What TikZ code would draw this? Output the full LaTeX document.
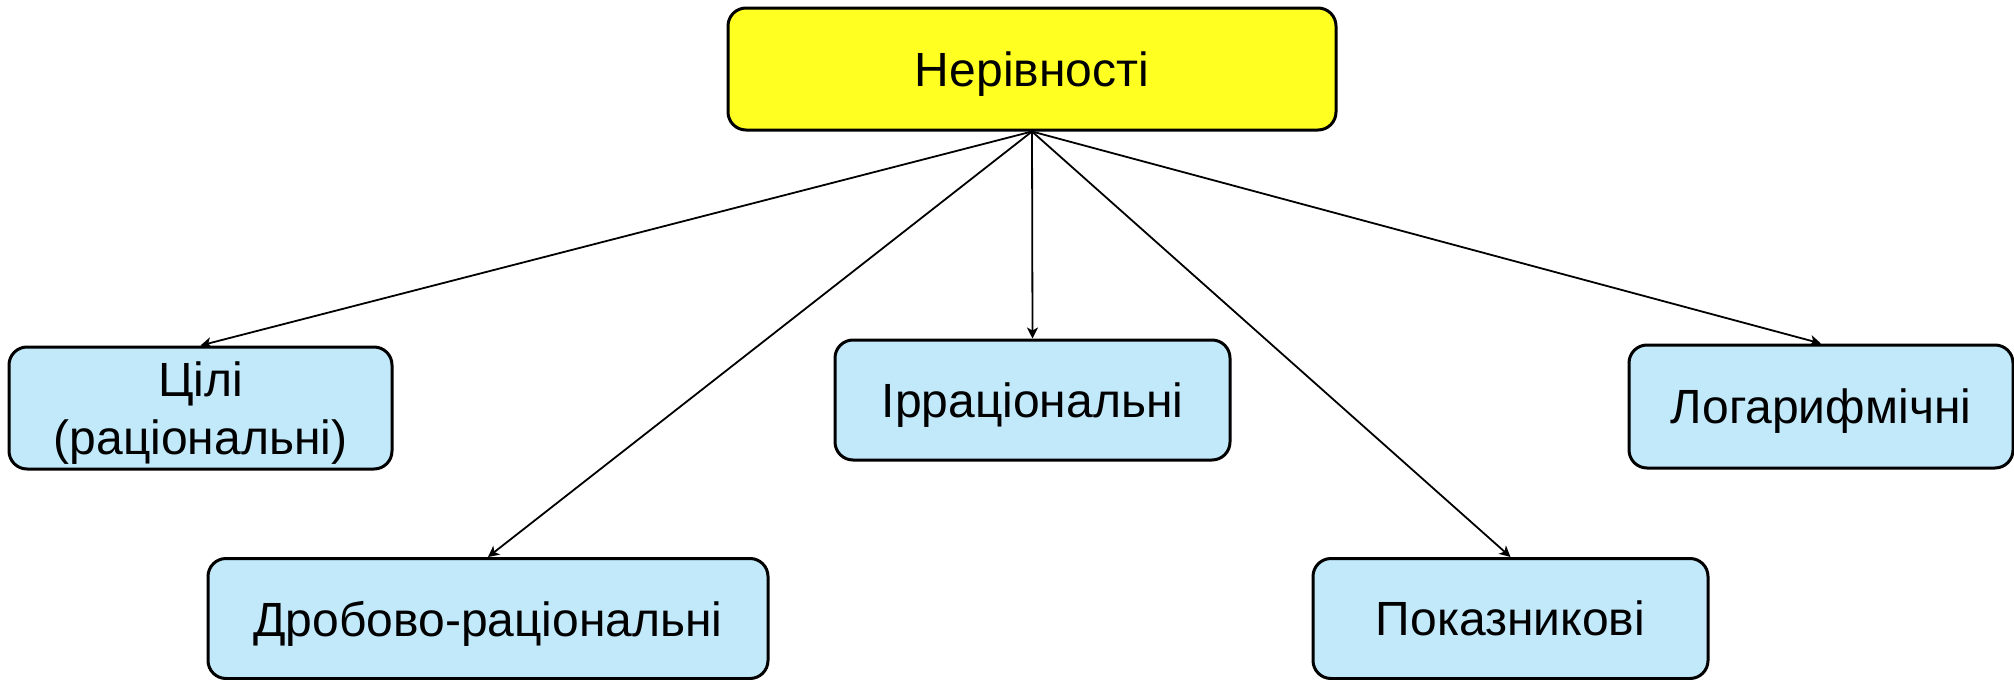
\documentclass[tikz,border=0pt]{standalone}
\usepackage{fontspec}
\setmainfont{Liberation Sans}
\usetikzlibrary{arrows.meta}
\definecolor{topfill}{HTML}{FFFF22}
\definecolor{boxfill}{HTML}{C1E9FA}
\tikzset{
  basebox/.style={draw=black, line width=1.5pt, rounded corners=9pt, inner sep=0pt, align=center,
    text depth=0pt, font=\fontsize{24}{27.5}\selectfont},
  topbox/.style={basebox, fill=topfill},
  subbox/.style={basebox, fill=boxfill},
  conn/.style={draw=black, line width=0.9pt, -{Stealth[length=5.5pt,width=5.5pt,inset=1.5pt]}}
}
\begin{document}
\begin{tikzpicture}[x=0.5pt,y=-0.5pt]
\useasboundingbox (0,0) rectangle (2014,680);
\node[topbox, minimum width=304pt, minimum height=61pt] (top) at (1032,69) {Нерівності};
\node[subbox, minimum width=191.5pt, minimum height=61pt, text depth=-3pt,
  font=\fontsize{24}{29}\selectfont] (cili) at (200.5,408) {Цілі\\(раціональні)};
\node[subbox, minimum width=197.5pt, minimum height=60pt] (irr) at (1032.5,400) {Ірраціональні};
\node[subbox, minimum width=192pt, minimum height=61.5pt] (log) at (1821,406.5) {Логарифмічні};
\node[subbox, minimum width=280pt, minimum height=60pt] (drob) at (488,618.5) {Дробово-раціональні};
\node[subbox, minimum width=197.5pt, minimum height=60pt] (pok) at (1510.5,618.5) {Показникові};
\draw[conn] (top.south) -- (cili.north);
\draw[conn] (top.south) -- (drob.north);
\draw[conn] (top.south) -- (irr.north);
\draw[conn] (top.south) -- (pok.north);
\draw[conn] (top.south) -- (log.north);
\end{tikzpicture}
\end{document}
